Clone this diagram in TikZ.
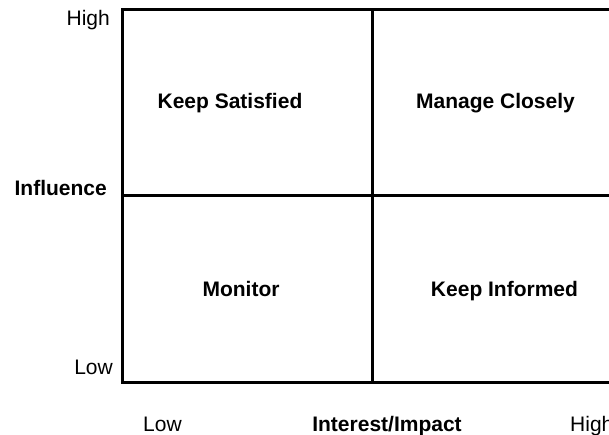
\documentclass[tikz,border=0pt]{standalone}
\usepackage{fontspec}
\setmainfont{Liberation Sans}
\usetikzlibrary{positioning}

\begin{document}
\begin{tikzpicture}[x=1pt, y=-1pt,
	gridline/.style={line width=3pt},
	axislabel/.style={inner sep=0pt, font=\fontsize{21}{25}\selectfont},
	quadlabel/.style={inner sep=0pt, anchor=base, font=\fontsize{21}{25}\selectfont\bfseries}]

\def \xl{122}
\def \xm{372}
\def \xr{640} % frame runs off the right edge
\def \yt{10}
\def \ym{196}
\def \yb{382}

\useasboundingbox (0,0) rectangle (609,435);
\clip (0,0) rectangle (609,435);

\coordinate (top left) at (\xl, \yt);
\coordinate (bottom right) at (\xr, \yb);

\draw[gridline] (top left) rectangle (bottom right); % frame
\draw[gridline] (\xm, \yt) -- (\xm, \yb); % interest split
\draw[gridline] (\xl, \ym) -- (\xr, \ym); % influence split

% quadrants
\node[quadlabel] (satisfied) at (230, 109) {Keep Satisfied};
\node[quadlabel] (closely)   at (495.5, 109) {Manage Closely};
\node[quadlabel] (monitor)   at (241, 296) {Monitor};
\node[quadlabel] (informed)  at (504.5, 296) {Keep Informed};

% y axis
\node[axislabel, anchor=base east] (y high) at (110, 26) {High};
\node[axislabel, anchor=base east, font=\fontsize{21}{25}\selectfont\bfseries] (y name) at (107, 196) {Influence};
\node[axislabel, anchor=base east] (y low) at (113, 374) {Low};

% x axis
\node[axislabel, anchor=base] (x low) at (162.5, 431) {Low};
\node[axislabel, anchor=base, font=\fontsize{21}{25}\selectfont\bfseries] (x name) at (387, 431) {Interest/Impact};
\node[axislabel, anchor=base west] (x high) at (570, 431) {High};

\end{tikzpicture}
\end{document}
